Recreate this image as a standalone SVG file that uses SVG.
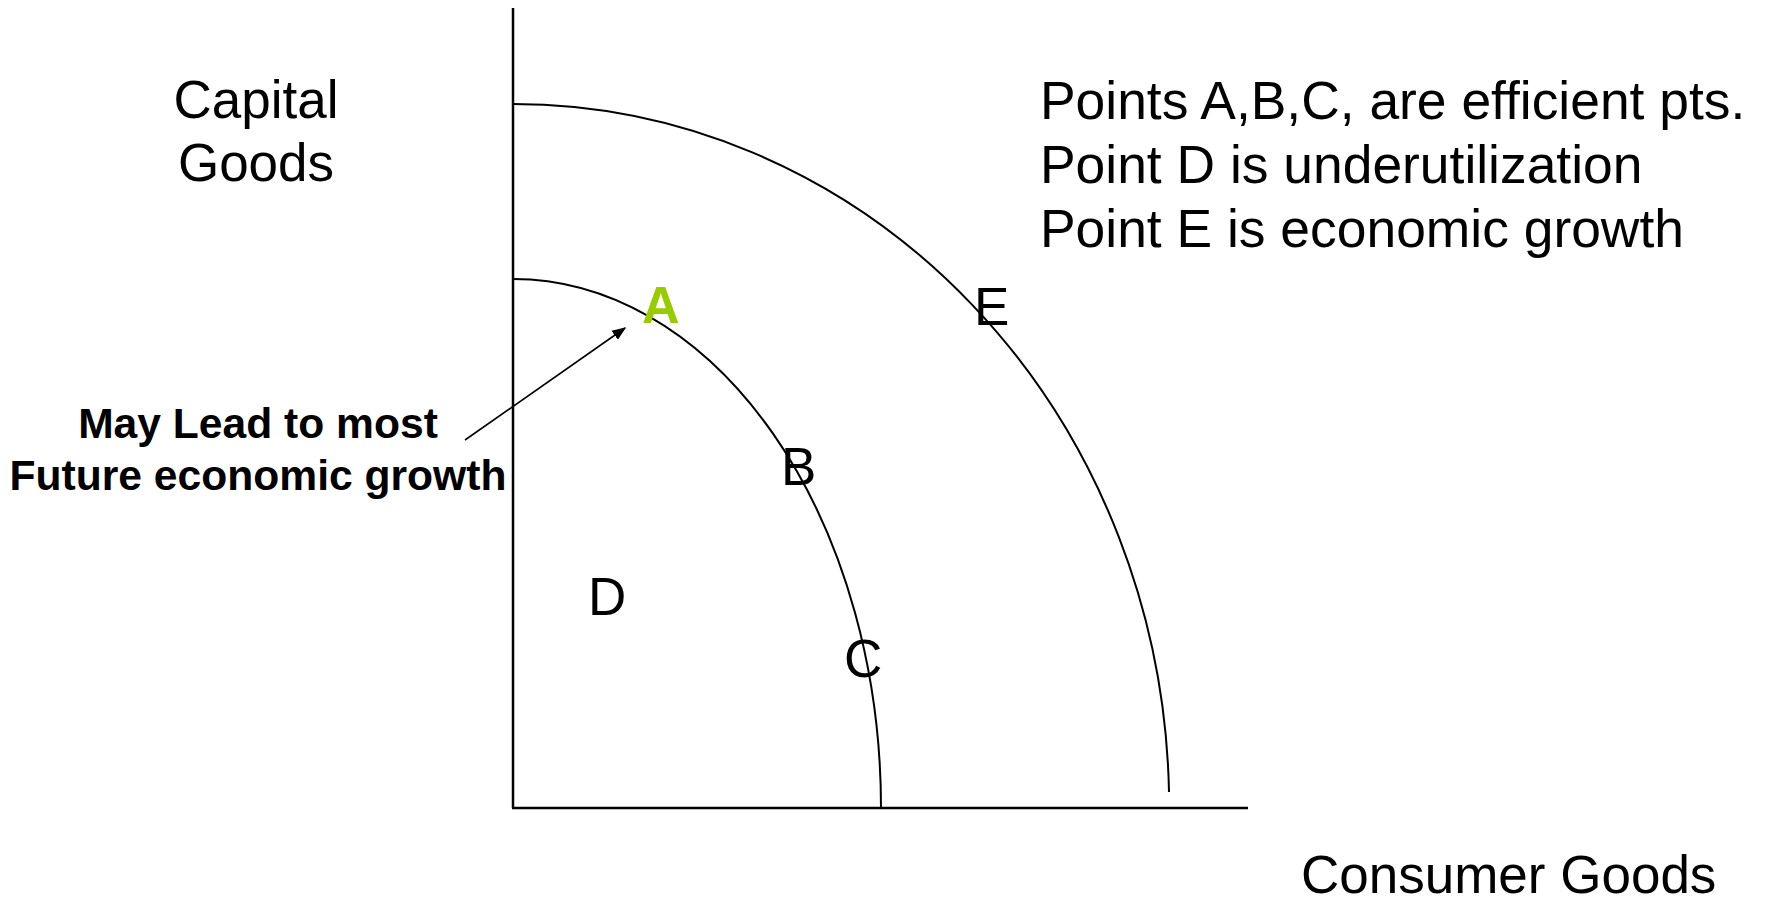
<svg xmlns="http://www.w3.org/2000/svg" width="1766" height="904" viewBox="0 0 1766 904">
<style>
.t{font-family:"Liberation Sans",Arial,sans-serif;font-size:53px;fill:#000}
.n{font-size:53.4px}
.b{font-family:"Liberation Sans",Arial,sans-serif;font-size:42.6px;font-weight:bold;fill:#000;text-anchor:middle}
.ax{stroke:#000;stroke-width:2.5;fill:none}
.cv{stroke:#000;stroke-width:2;fill:none}
</style>
<defs>
<marker id="ah" viewBox="0 0 10 10" refX="9" refY="5" markerWidth="14" markerHeight="14" markerUnits="userSpaceOnUse" orient="auto">
<path d="M0,1 L10,5 L0,9 Z" fill="#000"/>
</marker>
</defs>
<rect width="1766" height="904" fill="#fff"/>
<g id="axes">
<line class="ax" x1="513" y1="8" x2="513" y2="808"/>
<line class="ax" x1="512" y1="808" x2="1248" y2="808"/>
</g>
<g id="curves">
<path class="cv" d="M513,279 A368,529 0 0 1 881,808"/>
<path class="cv" d="M513,104 A656,703 0 0 1 1169,792"/>
</g>
<g id="connectors">
<line x1="465" y1="440" x2="625" y2="328" stroke="#000" stroke-width="1.6" marker-end="url(#ah)"/>
</g>
<g id="label-capital">
<text class="t" x="256" y="118" text-anchor="middle">Capital</text>
<text class="t" x="256" y="181" text-anchor="middle">Goods</text>
</g>
<g id="label-consumer">
<text class="t" x="1301" y="893">Consumer Goods</text>
</g>
<g id="notes">
<text class="t n" x="1040" y="119">Points A,B,C, are efficient pts.</text>
<text class="t n" x="1040" y="183">Point D is underutilization</text>
<text class="t n" x="1040" y="247">Point E is economic growth</text>
</g>
<g id="annotation">
<text class="b" x="258" y="438">May Lead to most</text>
<text class="b" x="258" y="490">Future economic growth</text>
</g>
<g id="point-A"><text x="642" y="323" font-family="Liberation Sans,Arial,sans-serif" font-size="52" font-weight="bold" fill="#99CC00">A</text></g>
<g id="point-B"><text class="t" x="781" y="485">B</text></g>
<g id="point-C"><text class="t" x="844" y="677">C</text></g>
<g id="point-D"><text class="t" x="588" y="615">D</text></g>
<g id="point-E"><text class="t" x="974" y="325">E</text></g>
</svg>
